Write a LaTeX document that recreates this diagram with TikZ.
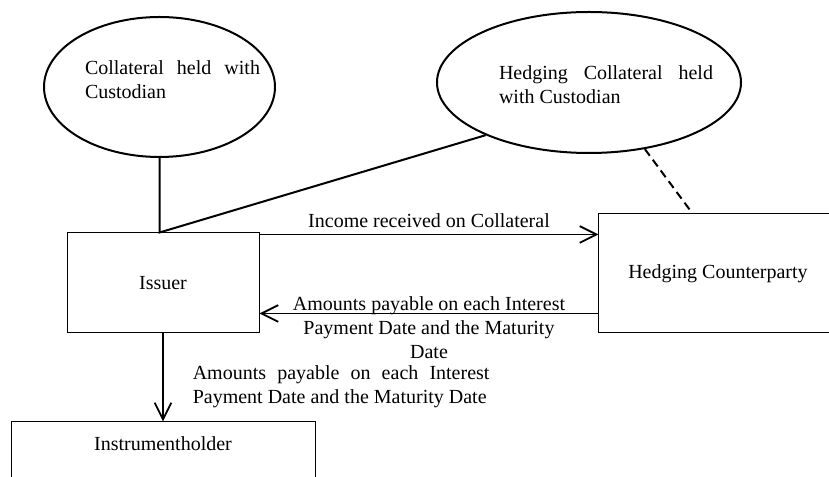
\documentclass[tikz,border=0pt]{standalone}
\usepackage{fontspec}
\setmainfont{Liberation Serif}
\usetikzlibrary{shapes.geometric,arrows.meta,positioning}

\tikzset{
  box/.style={draw, rectangle, line width=0.6pt},
  blob/.style={draw, ellipse, line width=1.2pt},
  blobtext/.style={text width=#1, align=justify},
  link/.style={line width=1.2pt},
  flow/.style={-{Straight Barb[length=10pt,width=10pt]}, line width=1.1pt},
}

\begin{document}
\begin{tikzpicture}[x=0.6pt, y=-0.6pt, font=\fontsize{12}{14.4}\selectfont]
	\clip (0,0) rectangle (829,477);
	\node[box, minimum width=115.2pt, minimum height=60pt] (issuer) at (163,283) {Issuer};
	\node[box, minimum width=142.8pt, minimum height=71.4pt, right=203.4pt of issuer.south east, anchor=south west] (hedge) {Hedging Counterparty};
	\node[box, minimum width=182.4pt, inner ysep=9pt, text depth=30pt, below=52.8pt of issuer] (holder) {Instrumentholder};
	\node[blob, minimum width=138.6pt, minimum height=84pt, label={[blobtext=105pt, xshift=7.8pt, yshift=4.5pt]center:Collateral held with Custodian}] (coll) at (159.5,87) {};
	\node[blob, minimum width=182.4pt, minimum height=84.6pt, label={[blobtext=128.4pt, xshift=10.2pt, yshift=-1.5pt]center:Hedging Collateral held with Custodian}] (hedgecoll) at (589,82.5) {};

	\draw[link] (coll.south) -- (coll.south |- issuer.north) -- (hedgecoll.207);
	\draw[link, dash pattern=on 5pt off 3pt] (hedgecoll.310) -- (hedge.113);

	\coordinate[below=1.2pt of issuer.north east] (income);
	\coordinate[above=12pt of issuer.south east] (payable);
	\draw[flow] (income) -- (income -| hedge.west) node[midway, above] {Income received on Collateral};
	\draw[flow] (payable -| hedge.west) -- (payable) node[midway, yshift=-8.4pt, align=center] {Amounts payable on each Interest\\ Payment Date and the Maturity\\ Date};
	\draw[flow] (issuer.south) -- (holder.north) node[pos=0.6, right, xshift=14pt, text width=178pt, align=justify] {Amounts payable on each Interest Payment Date and the Maturity Date};
\end{tikzpicture}
\end{document}
